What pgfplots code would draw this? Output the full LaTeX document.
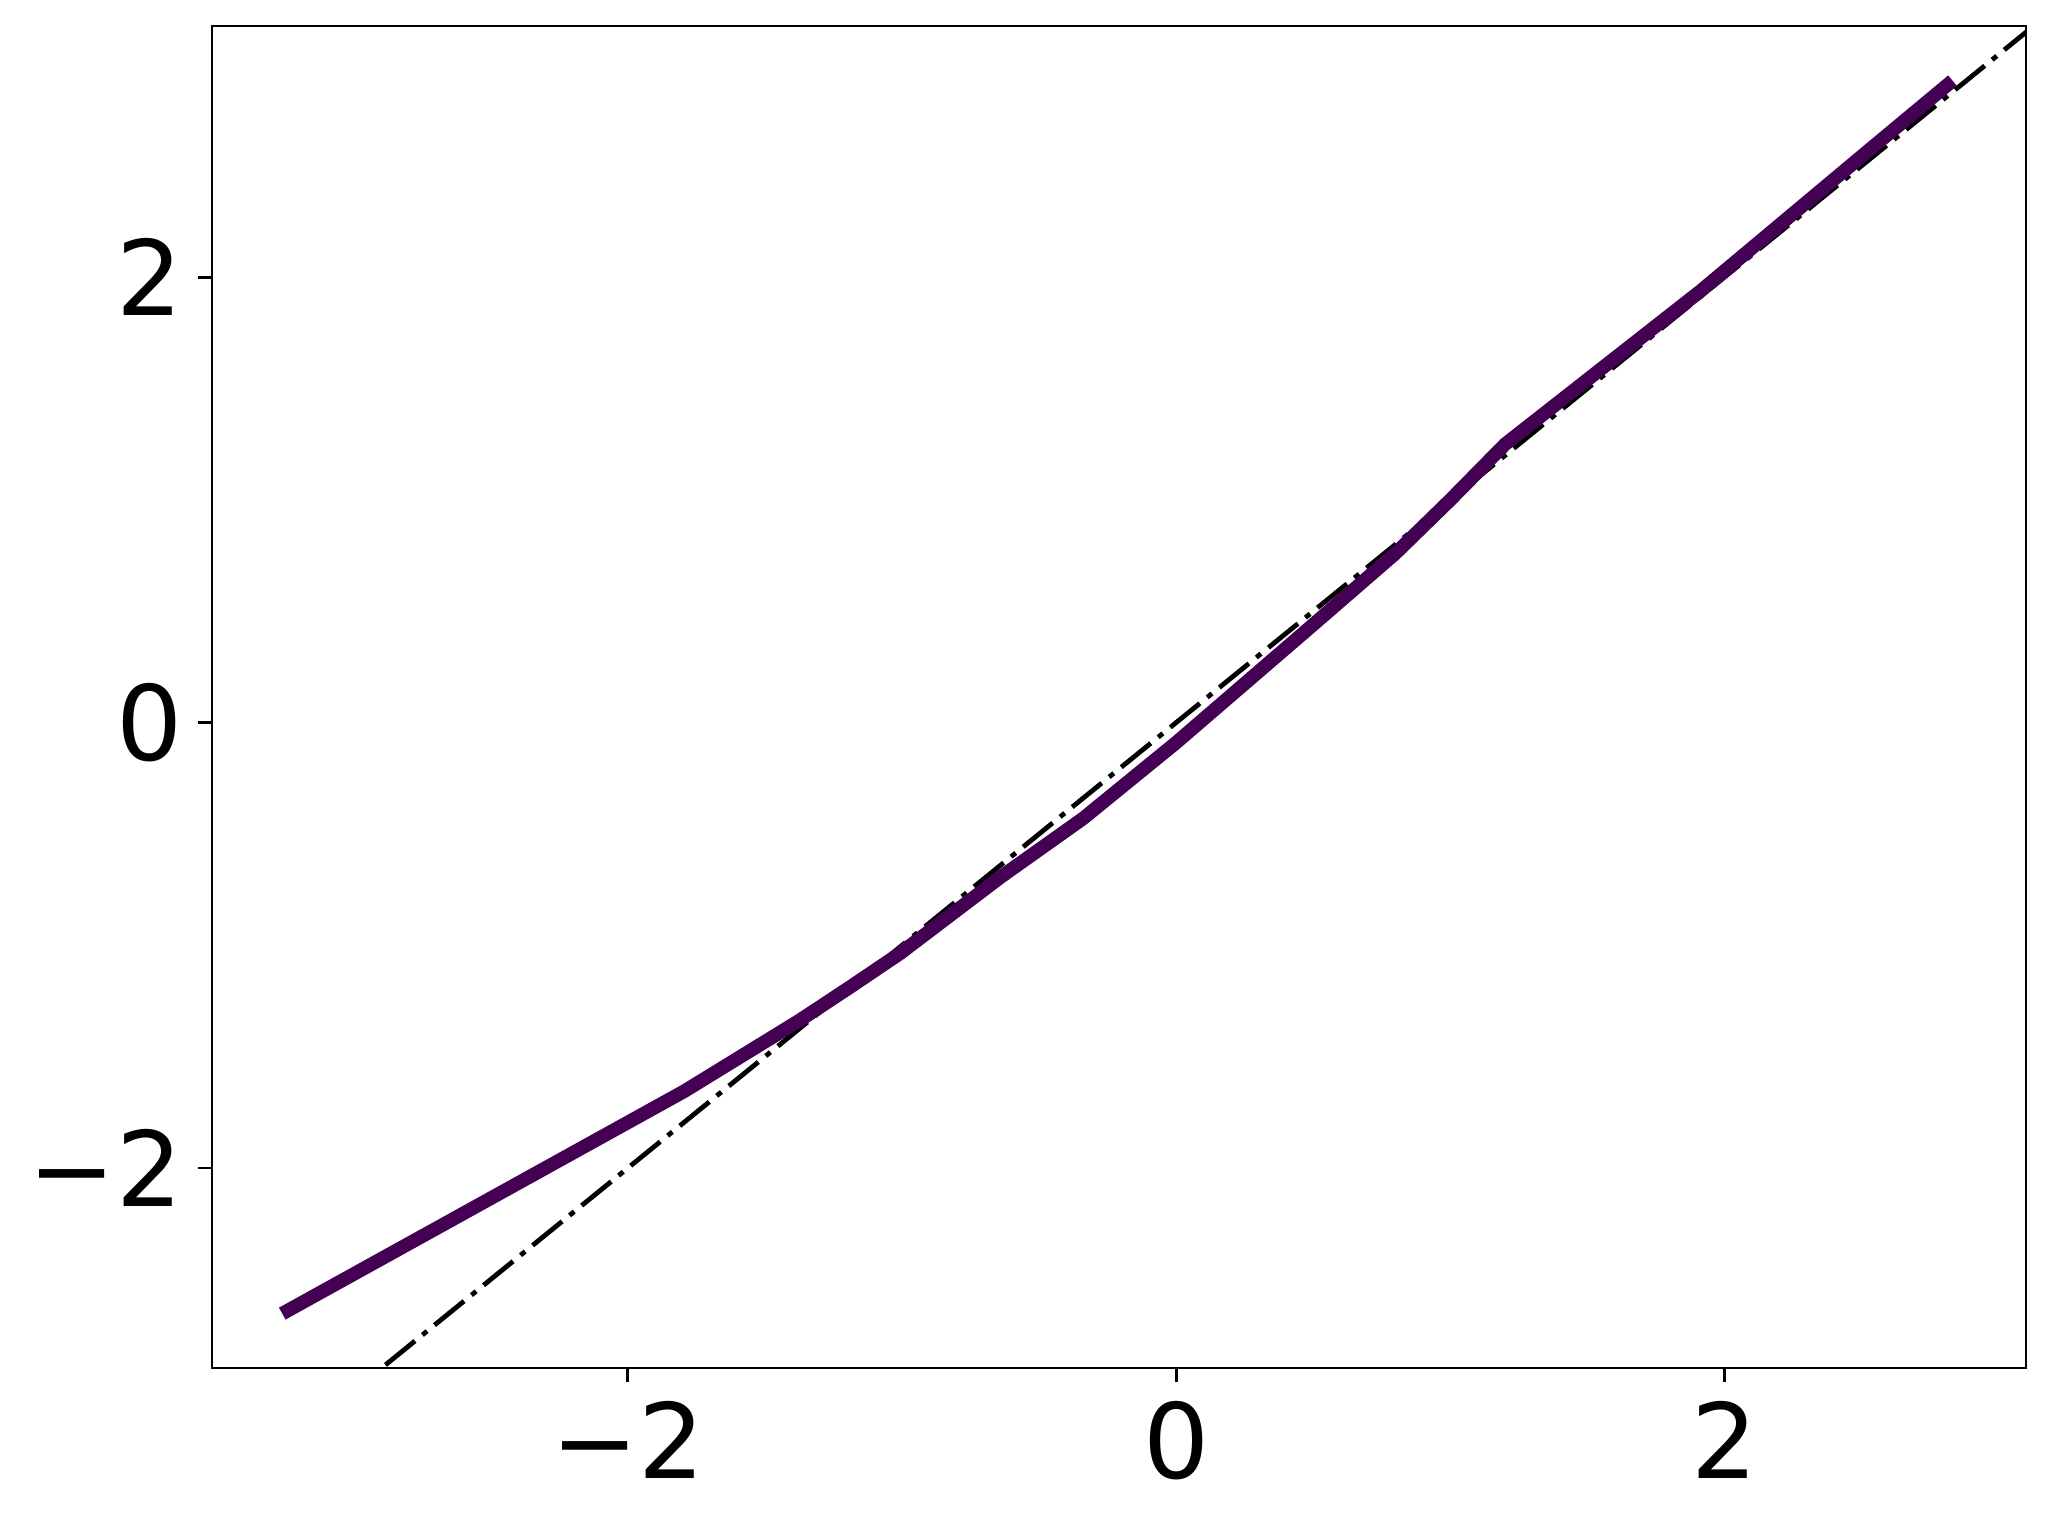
\documentclass[border=0pt]{standalone}
\usepackage{fontspec}
\setmainfont{DejaVu Sans}
\usepackage{pgfplots}
\pgfplotsset{compat=1.18}
\definecolor{vpurple}{RGB}{68,1,84}

\begin{document}
\begin{tikzpicture}
\useasboundingbox (-53pt,-40.25pt) rectangle (461pt,342pt);
\begin{axis}[
    at={(0,0)}, anchor=south west,
    scale only axis,
    width=453.5pt,
    height=335.5pt,
    xmin=-3.517, xmax=3.10,
    ymin=-2.898, ymax=3.128,
    xtick={-2,0,2}, ytick={-2,0,2},
    xticklabels={−2,0,2}, yticklabels={−2,0,2},
    tick align=outside,
    tick pos=left,
    major tick length=3.4pt,
    tick style={line width=0.7pt, black},
    axis line style={line width=0.7pt},
    ticklabel style={font=\fontsize{26}{26}\selectfont},
    xticklabel style={yshift=-1.5pt},
    yticklabel style={xshift=-0.5pt},
]
% reference line y = x
\addplot[black, line width=1.2pt,
    dash pattern=on 9.5pt off 2.4pt on 1.5pt off 2.4pt]
    coordinates {(-3.6,-3.6) (3.2,3.2)};
% quantile curve
\addplot[vpurple, line width=3.4pt, line cap=rect, line join=round] coordinates {
    (-3.239,-2.639) (-1.794,-1.655) (-1.372,-1.336) (-1.190,-1.188)
    (-1.007,-1.036) (-0.642,-0.695) (-0.339,-0.430) (0.0,-0.09)
    (0.5,0.44) (0.8,0.76) (1.0,1.0) (1.2,1.25)
    (1.912,1.937) (2.522,2.565) (2.813,2.863)
};
\end{axis}
\end{tikzpicture}
\end{document}
